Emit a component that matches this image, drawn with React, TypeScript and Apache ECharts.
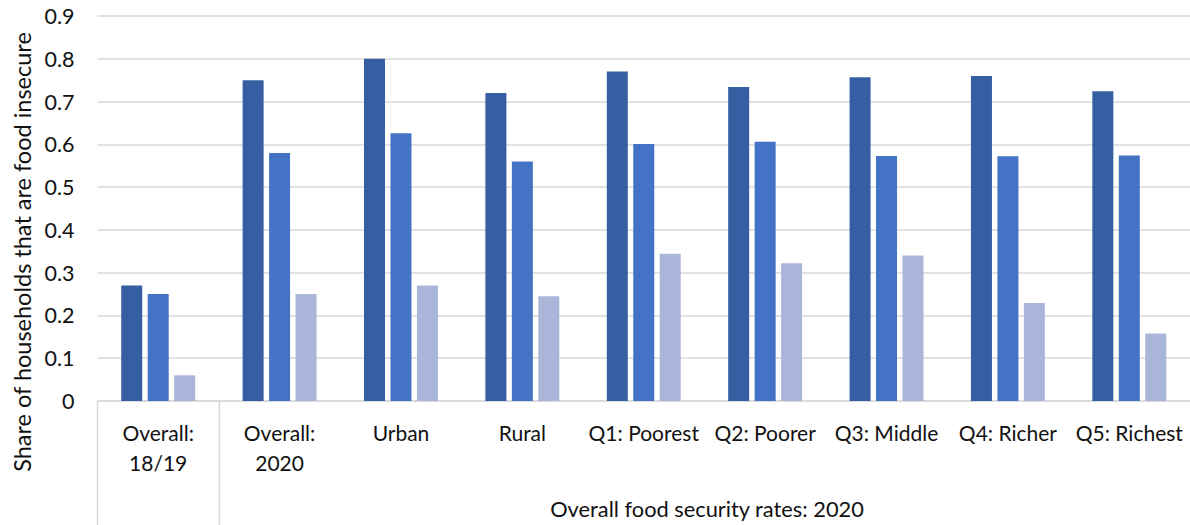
import React, { useEffect, useRef } from "react";
import * as echarts from "echarts";

// Categories along the x axis (first level) and the shared 2020 group label (second level)
const categories = [
  "Overall:\n18/19",
  "Overall:\n2020",
  "Urban",
  "Rural",
  "Q1: Poorest",
  "Q2: Poorer",
  "Q3: Middle",
  "Q4: Richer",
  "Q5: Richest",
];
const groupLabel = "Overall food security rates: 2020";
const yTitle = "Share of households that are food insecure";

// Three measures per category (darkest to lightest)
const seriesA = [0.27, 0.75, 0.8, 0.72, 0.77, 0.734, 0.757, 0.76, 0.724];
const seriesB = [0.25, 0.58, 0.626, 0.56, 0.601, 0.606, 0.573, 0.572, 0.574];
const seriesC = [0.06, 0.25, 0.27, 0.245, 0.344, 0.322, 0.34, 0.229, 0.158];

const yTicks = [0, 0.1, 0.2, 0.3, 0.4, 0.5, 0.6, 0.7, 0.8, 0.9];

const colors = ["#365EA2", "#4472C4", "#A9B6DA"];
const FONT = "Lato";

export default function App() {
  const ref = useRef<HTMLDivElement>(null);

  useEffect(() => {
    if (!ref.current) return;
    const chart = echarts.init(ref.current, undefined, { renderer: "svg" });

    const gridLeft = 97.5;
    const gridTop = 16;
    const gridHeight = 385;
    const catWidth = 121.9;
    const gridWidth = catWidth * categories.length;
    const axisY = gridTop + gridHeight;
    const sep = "#D9D9D9";
    const ink = "#111";

    const bar = (name: string, data: number[], color: string) => ({
      name,
      type: "bar",
      data,
      barWidth: 21,
      barGap: "26%",
      itemStyle: { color },
    });

    chart.setOption({
      animation: false,
      grid: { left: gridLeft, top: gridTop, width: gridWidth, height: gridHeight },
      xAxis: {
        type: "category",
        data: categories,
        axisTick: { show: false },
        axisLine: { show: true, lineStyle: { color: sep, width: 1.5 } },
        axisLabel: {
          interval: 0,
          margin: 16,
          fontFamily: FONT,
          fontSize: 21,
          lineHeight: 30,
          color: ink,
          align: "center",
        },
      },
      yAxis: {
        type: "value",
        min: 0,
        max: yTicks[yTicks.length - 1],
        interval: 0.1,
        axisLine: { show: false },
        axisTick: { show: false },
        splitLine: { lineStyle: { color: sep, width: 1.5 } },
        axisLabel: {
          margin: 23,
          fontFamily: FONT,
          fontSize: 21.5,
          color: ink,
          formatter: (v: number) => String(+v.toFixed(1)),
        },
      },
      series: [
        bar("Series 1", seriesA, colors[0]),
        bar("Series 2", seriesB, colors[1]),
        bar("Series 3", seriesC, colors[2]),
      ],
      graphic: [
        {
          type: "line",
          shape: { x1: gridLeft, y1: axisY, x2: gridLeft, y2: 525 },
          style: { stroke: sep, lineWidth: 1.5 },
        },
        {
          type: "line",
          shape: { x1: gridLeft + catWidth, y1: axisY, x2: gridLeft + catWidth, y2: 525 },
          style: { stroke: sep, lineWidth: 1.5 },
        },
        {
          type: "text",
          x: gridLeft + catWidth + (gridWidth - catWidth) / 2,
          y: 508,
          style: {
            text: groupLabel,
            fontFamily: FONT,
            fontSize: 21.8,
            fill: ink,
            textAlign: "center",
            textVerticalAlign: "middle",
          },
        },
        {
          type: "text",
          x: 22,
          y: 252,
          rotation: Math.PI / 2,
          style: {
            text: yTitle,
            fontFamily: FONT,
            fontSize: 23.5,
            fill: ink,
            textAlign: "center",
            textVerticalAlign: "middle",
          },
        },
      ],
    });

    return () => chart.dispose();
  }, []);

  return (
    <div
      ref={ref}
      style={{ position: "fixed", left: 0, top: 0, width: 1190, height: 525, background: "#fff" }}
    />
  );
}
